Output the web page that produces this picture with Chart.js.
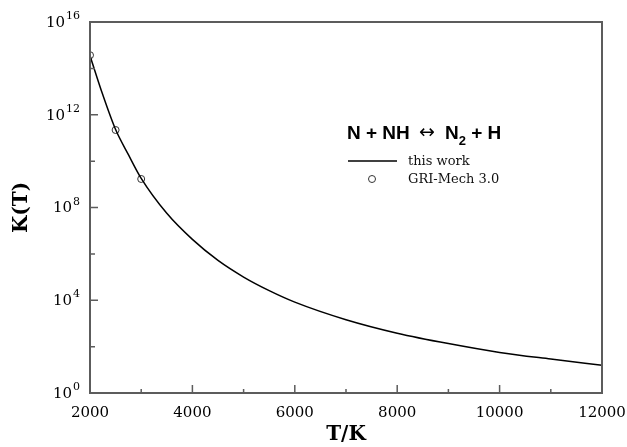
<!DOCTYPE html>
<html lang="en">
<head>
<meta charset="UTF-8">
<title>K(T) N + NH</title>
<script src="https://cdn.jsdelivr.net/npm/chart.js"></script>
<style>
  html, body { margin: 0; padding: 0; background: #fff; }
  #wrap { width: 627px; height: 447px; }
</style>
</head>
<body>
<div id="wrap"><canvas id="kChart" width="627" height="447"></canvas></div>
<script>
// temperatures (K) and equilibrium constant of this work
const temps = [2000, 2250, 2500, 2750, 3000, 3500, 4000, 4500, 5000, 5500, 6000, 7000, 8000, 9000, 10000, 11000, 12000];
const kThisWork = [3.5e14, 7.2e12, 2.3e11, 1.9e10, 1.8e9, 5.6e7, 4.2e6, 5.2e5, 1.0e5, 2.6e4, 8.3e3, 1.45e3, 380, 135, 56, 29, 15.8];

// GRI-Mech 3.0 values
const griTemps = [2000, 2500, 3000];
const kGri = [3.7e14, 2.2e11, 1.7e9];

// axis ticks
const xMajor = [2000, 4000, 6000, 8000, 10000, 12000];
const xMinor = [3000, 5000, 7000, 9000, 11000];
const yMajorExp = [0, 4, 8, 12, 16];
const yMinorExp = [2, 6, 10, 14];

const serif = 'DejaVu Serif';
const sans = 'Liberation Sans';
const frameColor = '#5c5c5c';

// frame, inward ticks, y labels with exponents, legend box
const decorations = {
  id: 'decorations',
  afterDraw(chart) {
    const ctx = chart.ctx;
    const a = chart.chartArea;
    const xs = chart.scales.x, ys = chart.scales.y;
    ctx.save();

    ctx.strokeStyle = frameColor;
    ctx.lineWidth = 2;
    ctx.strokeRect(a.left, a.top, a.right - a.left, a.bottom - a.top);

    ctx.beginPath();
    xMajor.forEach(v => { const px = xs.getPixelForValue(v); ctx.moveTo(px, a.bottom); ctx.lineTo(px, a.bottom - 8); });
    xMinor.forEach(v => { const px = xs.getPixelForValue(v); ctx.moveTo(px, a.bottom); ctx.lineTo(px, a.bottom - 4); });
    yMajorExp.forEach(e => { const py = ys.getPixelForValue(Math.pow(10, e)); ctx.moveTo(a.left, py); ctx.lineTo(a.left + 8, py); });
    yMinorExp.forEach(e => { const py = ys.getPixelForValue(Math.pow(10, e)); ctx.moveTo(a.left, py); ctx.lineTo(a.left + 5, py); });
    ctx.lineWidth = 1.5;
    ctx.stroke();

    // 10^n labels
    ctx.fillStyle = '#000';
    yMajorExp.forEach(e => {
      const py = ys.getPixelForValue(Math.pow(10, e));
      const ex = String(e);
      ctx.font = '11px "' + serif + '"';
      const ew = ctx.measureText(ex).width;
      ctx.textAlign = 'left';
      ctx.textBaseline = 'alphabetic';
      ctx.fillText(ex, 80 - ew, py - 3);
      ctx.font = '15px "' + serif + '"';
      ctx.textAlign = 'right';
      ctx.textBaseline = 'middle';
      ctx.fillText('10', 80 - ew - 1, py + 1);
    });

    // reaction title
    let x = 347;
    const base = 139;
    ctx.textAlign = 'left';
    ctx.textBaseline = 'alphabetic';
    ctx.font = 'bold 19px "' + sans + '"';
    ctx.fillText('N + NH', x, base);
    ctx.font = '19px "DejaVu Sans"';
    ctx.fillText('\u2194', 419, base - 1);
    x = 445;
    ctx.font = 'bold 19px "' + sans + '"';
    ctx.fillText('N', x, base);
    x += ctx.measureText('N').width;
    ctx.font = 'bold 13px "' + sans + '"';
    ctx.fillText('2', x, base + 6);
    x += ctx.measureText('2').width;
    ctx.font = 'bold 19px "' + sans + '"';
    ctx.fillText(' + H', x, base);

    // legend entries
    ctx.strokeStyle = '#000';
    ctx.lineWidth = 1.5;
    ctx.beginPath();
    ctx.moveTo(348, 161);
    ctx.lineTo(397, 161);
    ctx.stroke();
    ctx.strokeStyle = '#333';
    ctx.lineWidth = 1;
    ctx.beginPath();
    ctx.arc(372, 179, 3.5, 0, Math.PI * 2);
    ctx.stroke();
    ctx.font = '13px "' + serif + '"';
    ctx.textBaseline = 'middle';
    ctx.fillStyle = '#111';
    ctx.fillText('this work', 408, 162);
    ctx.fillText('GRI-Mech 3.0', 408, 180);

    ctx.restore();
  }
};

const ctx = document.getElementById('kChart').getContext('2d');
const chart = new Chart(ctx, {
  type: 'line',
  data: {
    datasets: [
      {
        label: 'this work',
        data: temps.map((t, i) => ({ x: t, y: kThisWork[i] })),
        borderColor: '#000',
        borderWidth: 1.5,
        pointRadius: 0,
        fill: false,
        cubicInterpolationMode: 'monotone'
      },
      {
        label: 'GRI-Mech 3.0',
        data: griTemps.map((t, i) => ({ x: t, y: kGri[i] })),
        showLine: false,
        pointRadius: 3.5,
        pointBorderWidth: 1,
        pointBorderColor: '#333',
        pointBackgroundColor: 'rgba(0,0,0,0)'
      }
    ]
  },
  options: {
    responsive: false,
    animation: false,
    devicePixelRatio: 1,
    layout: { padding: { top: 22, right: 25, left: 0, bottom: 0 } },
    plugins: {
      legend: { display: false },
      tooltip: { enabled: false }
    },
    scales: {
      x: {
        type: 'linear',
        min: 2000,
        max: 12000,
        grid: { display: false },
        border: { display: false },
        ticks: {
          stepSize: 2000,
          maxRotation: 0,
          color: '#000',
          padding: 3,
          font: { family: serif, size: 15 },
          callback: v => String(v)
        },
        title: {
          display: true,
          text: 'T/K',
          color: '#000',
          font: { family: serif, size: 20, weight: 'bold' },
          padding: { top: 6, bottom: 0 }
        },
        afterFit(scale) {
          scale.height = 54;
          scale.paddingLeft = 0;
          scale.paddingRight = 0;
        }
      },
      y: {
        type: 'logarithmic',
        min: 1,
        max: 1e16,
        grid: { display: false },
        border: { display: false },
        ticks: { display: false },
        title: {
          display: true,
          text: 'K(T)',
          color: '#000',
          font: { family: serif, size: 20, weight: 'bold' },
          padding: { top: 10, bottom: 0 }
        },
        afterFit(scale) { scale.width = 90; }
      }
    }
  },
  plugins: [decorations]
});
</script>
</body>
</html>
